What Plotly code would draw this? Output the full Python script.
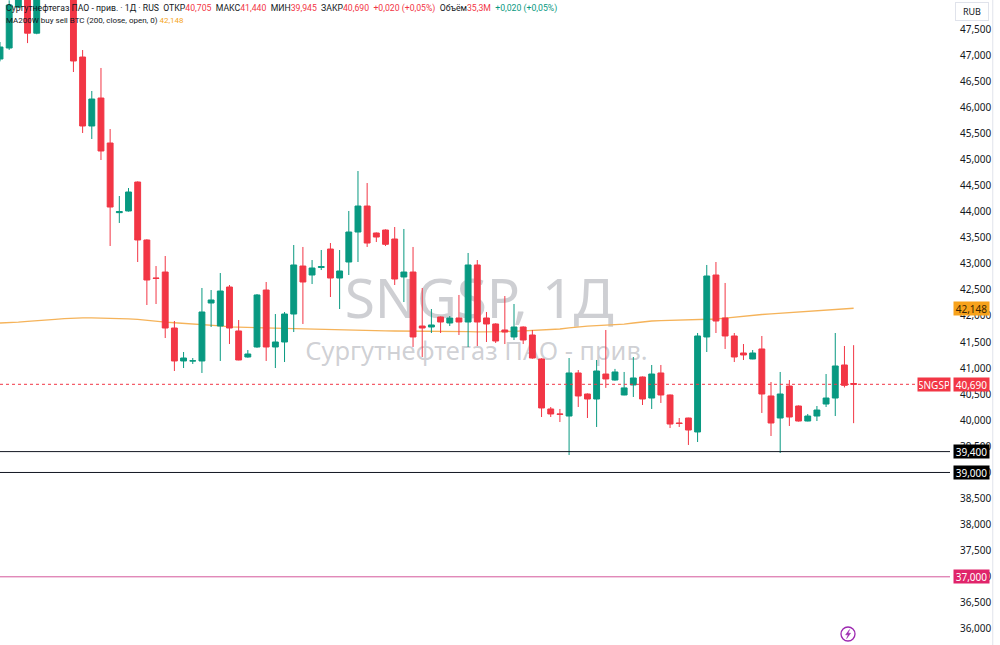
import plotly.graph_objects as go

# ---------------- data ----------------
opens = [46925, 47136, 47920, 48500, 47420, 48600, 49100, 49300, 49000, 46963,
         45641, 46177, 45315, 43980, 44012, 44567, 43456, 42727, 42842, 41769,
         41137, 41137, 41137, 42248, 41807, 42555, 41712, 41213, 41405, 42497,
         41405, 41501, 42037, 42957, 42785, 42930, 43283, 42727, 43034, 43609,
         44107, 43590, 43647, 43475, 42747, 42842, 41807, 41788, 41980, 41865,
         41961, 41884, 42977, 41961, 41846, 41731, 41597, 41788, 41635, 41175,
         40217, 40121, 40082, 40907, 40504, 40408, 40887, 40772, 40485, 40677,
         40830, 40427, 40907, 40485, 39948, 40044, 39776, 41597, 42785, 41961,
         41616, 41290, 41175, 41367, 40466, 40044, 40657, 40274, 39986, 40082,
         40312, 40427, 41060, 40705]
highs = [47250, 48050, 48500, 48600, 48700, 49300, 49500, 49500, 49100, 47097,
         46312, 46753, 45583, 44299, 44452, 44580, 43470, 42957, 43149, 41903,
         41309, 41194, 42536, 42497, 42823, 42593, 41922, 41347, 42420, 42651,
         42037, 42076, 43360, 43322, 43072, 43264, 43398, 43264, 44012, 44778,
         44548, 43600, 43660, 43705, 43667, 43322, 42536, 42133, 41990, 41999,
         42402, 43207, 43072, 42076, 41860, 42382, 42229, 41800, 41731, 41190,
         40255, 40217, 41194, 40964, 40515, 41156, 41731, 40985, 40926, 41213,
         40840, 41060, 41060, 40495, 40044, 40050, 41673, 42977, 43034, 42632,
         41673, 41462, 41347, 41616, 40734, 40926, 40772, 40285, 40121, 40274,
         40887, 41673, 41424, 41440]
lows = [46880, 47100, 47900, 47230, 47400, 48400, 48800, 48700, 46676, 45507,
        45392, 44989, 43341, 43782, 44000, 43034, 42210, 42229, 41577, 40945,
        41002, 41079, 40907, 41788, 41137, 41462, 41150, 41200, 41390, 41137,
        41002, 41117, 41692, 41846, 42612, 42880, 42363, 42133, 42785, 43034,
        43322, 43417, 43340, 42593, 42267, 41405, 41213, 41673, 41673, 41807,
        41635, 41405, 41424, 41501, 41482, 41462, 41539, 41462, 41180, 40063,
        40063, 39967, 39335, 40255, 40044, 39872, 40621, 40760, 40480, 40447,
        40293, 40217, 40332, 39852, 39872, 39527, 39584, 41309, 41673, 41367,
        41117, 41156, 41170, 40140, 39699, 39373, 39891, 39975, 39980, 39986,
        40255, 40082, 40630, 39945]
closes = [47155, 47960, 48400, 47420, 48600, 49100, 49300, 49000, 46887, 45641,
          46158, 45162, 44088, 44000, 44376, 43456, 42689, 42720, 41769, 41137,
          41194, 41140, 42076, 42306, 42478, 41769, 41156, 41271, 42402, 41405,
          41501, 42037, 42977, 42651, 42919, 42945, 42727, 42862, 43609, 44107,
          43398, 43513, 43373, 42708, 42842, 41597, 41769, 41827, 41884, 41961,
          41884, 42977, 41884, 41846, 41520, 41692, 41788, 41539, 41194, 40236,
          40121, 40115, 40907, 40466, 40408, 40945, 40792, 40926, 40621, 40811,
          40408, 40887, 40485, 39929, 39940, 39814, 41616, 42766, 41903, 41616,
          41213, 41252, 41290, 40504, 39948, 40504, 40063, 39986, 40082, 40197,
          40427, 41041, 40670, 40690]
ma200w = [41865, 41870, 41880, 41895, 41905, 41920, 41935, 41950, 41960, 41962,
          41962, 41961, 41958, 41952, 41945, 41935, 41915, 41895, 41880, 41870,
          41860, 41848, 41838, 41825, 41810, 41790, 41785, 41780, 41772, 41766,
          41762, 41757, 41752, 41748, 41745, 41740, 41735, 41732, 41728, 41722,
          41718, 41716, 41714, 41712, 41712, 41710, 41708, 41706, 41704, 41702,
          41700, 41698, 41696, 41694, 41695, 41700, 41706, 41712, 41720, 41728,
          41735, 41750, 41770, 41790, 41805, 41815, 41822, 41830, 41845, 41865,
          41885, 41903, 41910, 41915, 41920, 41922, 41925, 41932, 41942, 41960,
          41980, 42000, 42018, 42028, 42040, 42052, 42060, 42070, 42080, 42095,
          42108, 42120, 42135, 42148]
levels = [39400, 39000, 37000]
y_ticks = list(range(36000, 48000, 500))
ticker = "SNGSP"
title_name = "Сургутнефтегаз ПАО - прив."
last_price = 40690
ma_last = 42148

x = list(range(len(opens)))

GREEN = "#089981"
RED = "#f23645"
TXT = "#131722"
FONT = "Noto Sans"
X_RANGE = [0, 103.5]
Y_RANGE = [35693, 48056]

fig = go.Figure()

# watermark (behind everything, base subplot)
fig.add_trace(go.Scatter(
    x=[52.2, 51.9], y=[42230, 41270], mode="text",
    text=[f"{ticker}, 1Д", title_name],
    textfont=dict(size=[55, 25.5], color="rgba(120,123,134,0.36)", family=FONT),
    hoverinfo="skip", cliponaxis=False))

# MA line (base subplot, behind candles)
fig.add_trace(go.Scatter(x=x, y=ma200w, mode="lines",
                         line=dict(color="#f5b35a", width=1.3),
                         hoverinfo="skip"))

# candles on an overlaying subplot so they sit above the MA line
fig.add_trace(go.Candlestick(
    x=x, open=opens, high=highs, low=lows, close=closes,
    xaxis="x2", yaxis="y2",
    increasing=dict(line=dict(color=GREEN, width=1), fillcolor=GREEN),
    decreasing=dict(line=dict(color=RED, width=1), fillcolor=RED),
    whiskerwidth=0, hoverinfo="skip"))

shapes = []
level_style = {39400: ("#131722", "#000000"), 39000: ("#131722", "#000000"),
               37000: ("#d4579c", "#e0246a")}
for lv in levels:
    shapes.append(dict(type="line", xref="paper", yref="y", x0=0, x1=1,
                       y0=lv, y1=lv, line=dict(color=level_style[lv][0], width=1)))
# last-price dotted line
shapes.append(dict(type="line", xref="paper", yref="y", x0=0, x1=0.967,
                   y0=last_price, y1=last_price,
                   line=dict(color=RED, width=1, dash="dot")))
# axis separator
shapes.append(dict(type="line", xref="paper", yref="paper", x0=1.045, x1=1.045,
                   y0=0, y1=1, line=dict(color="#e0e3eb", width=1)))
# lightning icon
PW, PH = 950.0, 645.0
shapes.append(dict(type="circle", xref="paper", yref="paper",
                   x0=841 / PW, x1=855 / PW, y0=1 - 641 / PH, y1=1 - 627 / PH,
                   line=dict(color="#9c27b0", width=1.3)))
bolt = [(849.6, 629.5), (845.6, 634.8), (848.2, 634.8), (846.6, 638.6),
        (850.6, 633.2), (848.0, 633.2)]
path = "M " + " L ".join(f"{px / PW:.5f},{1 - py / PH:.5f}" for px, py in bolt) + " Z"
shapes.append(dict(type="path", xref="paper", yref="paper", path=path,
                   fillcolor="#9c27b0", line=dict(color="#9c27b0", width=0.5)))
fig.update_layout(shapes=shapes)

ann = []


def box(val, bg, fg, txt=None, xanchor="left", xshift=3, width=33):
    ann.append(dict(xref="paper", yref="y", x=1, y=val, xanchor=xanchor,
                    yanchor="middle", xshift=xshift,
                    text=txt if txt is not None else f"{val:,}",
                    showarrow=False, bgcolor=bg, width=width, height=11,
                    borderpad=1, align="center",
                    font=dict(size=10, color=fg, family=FONT)))


box(ma_last, "#f7a21b", "#3a2500")
box(last_price, RED, "white")
box(last_price, RED, "white", txt=ticker, xanchor="right", xshift=1, width=30)
for lv in levels:
    box(lv, level_style[lv][1], "white")

# RUB box
ann.append(dict(xref="paper", yref="paper", x=1, y=1, xanchor="left", yanchor="top",
                xshift=5, yshift=-2, text="RUB", showarrow=False, bgcolor="white",
                bordercolor="#e0e3eb", borderwidth=1, borderpad=2, width=28,
                font=dict(size=9, color=TXT, family=FONT)))


def c(t, col):
    return f"<span style='color:{col}'>{t}</span>"


line1 = (f"{title_name} · 1Д · RUS  ОТКР{c('40,705', RED)}  МАКС{c('41,440', RED)}  "
         f"МИН{c('39,945', RED)}  ЗАКР{c('40,690', RED)}  {c('+0,020 (+0,05%)', RED)}  "
         f"Объём{c('35,3M', RED)}  {c('+0,020 (+0,05%)', GREEN)}")
line2 = f"MA200W buy sell BTC (200, close, open, 0) {c(f'{ma_last:,}', '#f5a623')}"
ann.append(dict(xref="paper", yref="paper", x=0, y=1, xanchor="left", yanchor="top",
                xshift=4, yshift=-1, text=line1, showarrow=False, align="left",
                font=dict(size=8.7, color=TXT, family="Roboto")))
ann.append(dict(xref="paper", yref="paper", x=0, y=1, xanchor="left", yanchor="top",
                xshift=4, yshift=-14, text=line2, showarrow=False, align="left",
                font=dict(size=8, color=TXT, family="Roboto")))
fig.update_layout(annotations=ann)

fig.update_layout(
    width=1000, height=645,
    margin=dict(l=0, r=50, t=0, b=0),
    plot_bgcolor="white", paper_bgcolor="white",
    showlegend=False, hovermode=False,
    boxgap=0.2, boxgroupgap=0.2,
    xaxis=dict(range=X_RANGE, showgrid=False, zeroline=False,
               showticklabels=False, ticks="", showline=False,
               rangeslider=dict(visible=False), automargin=False),
    yaxis=dict(range=Y_RANGE, side="right", tickvals=y_ticks,
               tickformat=",d", showgrid=False, zeroline=False, ticks="",
               showline=False, ticklabelstandoff=9, automargin=False,
               tickfont=dict(size=10, color=TXT, family=FONT)),
    xaxis2=dict(range=X_RANGE, overlaying="x", visible=False,
                rangeslider=dict(visible=False), automargin=False),
    yaxis2=dict(range=Y_RANGE, overlaying="y", side="right", visible=False,
                automargin=False),
)

fig.write_html("out.html")
